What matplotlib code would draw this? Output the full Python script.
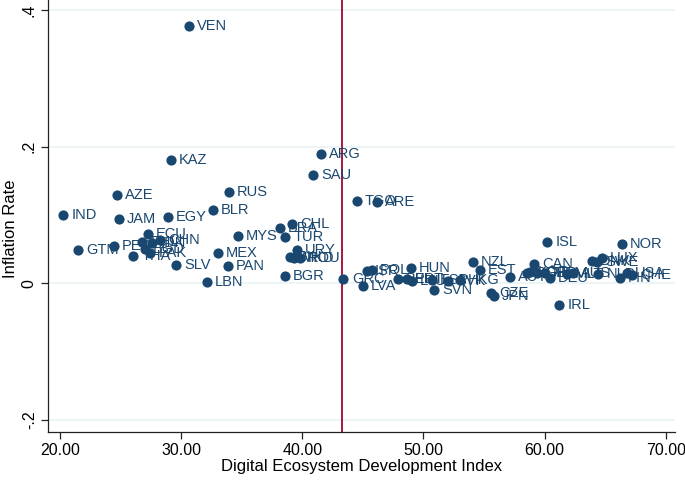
import matplotlib
matplotlib.use("Agg")
import matplotlib.pyplot as plt
from matplotlib.ticker import FixedLocator

plt.rcParams['font.family'] = ['Liberation Sans', 'DejaVu Sans']

countries = ["VEN", "KAZ", "ARG", "SAU", "RUS", "AZE", "TGO", "ARE", "BLR", "IND",
             "EGY", "JAM", "CHL", "BRA", "ECU", "MYS", "TUR", "CHN", "PHL", "IDN",
             "PER", "GTM", "BGD", "PAK", "URY", "THA", "MEX", "PAN", "SLV", "BIH",
             "MKD", "ROU", "BGR", "LBN", "GRC", "ISR", "POL", "LVA", "HUN", "BEL",
             "PRT", "LTU", "ESP", "SVK", "HKG", "SVN", "NZL", "EST", "CZE", "JPN",
             "AUT", "CAN", "ISL", "SGP", "KOR", "GBR", "FRA", "DEU", "MLT", "AUS",
             "DNK", "SWE", "LUX", "NLD", "NOR", "USA", "CHE", "FIN", "IRL"]
ddi = [30.65, 29.17, 41.53, 40.87, 33.95, 24.72, 44.50, 46.15, 32.63, 20.26,
       28.92, 24.88, 39.14, 38.15, 27.27, 34.69, 38.57, 28.26, 26.78, 27.60,
       24.47, 21.50, 27.02, 27.44, 39.56, 26.03, 33.04, 33.87, 29.58, 38.98,
       39.31, 39.80, 38.57, 32.13, 43.40, 45.32, 45.74, 44.99, 48.95, 47.88,
       48.62, 49.03, 50.68, 52.00, 52.99, 50.84, 54.06, 54.64, 55.55, 55.80,
       57.12, 59.10, 60.17, 58.52, 58.76, 59.34, 60.00, 60.41, 61.80, 62.31,
       63.88, 64.29, 64.70, 64.40, 66.35, 66.76, 67.17, 66.18, 61.16]
inflation = [0.3764, 0.1803, 0.1891, 0.1584, 0.1335, 0.1291, 0.1204, 0.1189, 0.1072, 0.0999,
             0.0969, 0.0940, 0.0868, 0.0809, 0.0721, 0.0692, 0.0677, 0.0633, 0.0604, 0.0589,
             0.0545, 0.0487, 0.0502, 0.0443, 0.0487, 0.0399, 0.0443, 0.0253, 0.0268, 0.0385,
             0.0370, 0.0370, 0.0107, 0.0019, 0.0063, 0.0180, 0.0195, -0.0040, 0.0224, 0.0063,
             0.0063, 0.0034, 0.0048, 0.0034, 0.0048, -0.0098, 0.0312, 0.0195, -0.0142, -0.0186,
             0.0092, 0.0282, 0.0604, 0.0151, 0.0165, 0.0151, 0.0151, 0.0078, 0.0135, 0.0151,
             0.0326, 0.0310, 0.0370, 0.0136, 0.0575, 0.0151, 0.0121, 0.0078, -0.0318]
threshold = 43.25

x_ticks = [20, 30, 40, 50, 60, 70]
x_ticklabels = ["20.00", "30.00", "40.00", "50.00", "60.00", "70.00"]
y_ticks = [-0.2, 0, 0.2, 0.4]
y_ticklabels = ["-.2", "0", ".2", ".4"]

navy = "#1a476f"

fig = plt.figure(figsize=(6.85, 4.8), dpi=100)
ax = fig.add_axes([0.070, 0.100, 0.915, 0.900])

ax.scatter(ddi, inflation, s=54, color=navy, zorder=3, linewidths=0)
for c, xv, yv in zip(countries, ddi, inflation):
    ax.annotate(c, (xv, yv), xytext=(6, 0), textcoords="offset points",
                va="center", ha="left", fontsize=10.5, color=navy, zorder=4)

ax.axvline(threshold, color="#a8173a", lw=1.4, zorder=2)

ax.set_xlim(19.03, 70.72)
ax.set_ylim(-0.2176, 0.4145)
ax.xaxis.set_major_locator(FixedLocator(x_ticks))
ax.set_xticklabels(x_ticklabels, fontsize=11.5)
ax.yaxis.set_major_locator(FixedLocator(y_ticks))
ax.set_yticklabels(y_ticklabels, fontsize=11.5, rotation=90, va="center")

ax.grid(axis="y", color="#eaf2f3", lw=1.2, zorder=0)
ax.set_axisbelow(True)
for s in ["top", "right"]:
    ax.spines[s].set_visible(False)
for s in ["left", "bottom"]:
    ax.spines[s].set_color("#222222")
    ax.spines[s].set_linewidth(0.9)
ax.tick_params(direction="out", length=5, width=0.9, color="#222222", pad=3)

ax.set_xlabel("Digital Ecosystem Development Index", fontsize=12, labelpad=1)
ax.set_ylabel("Inflation Rate", fontsize=12)
ax.yaxis.set_label_coords(-0.047, 0.47)

fig.savefig("out.png", dpi=100)
